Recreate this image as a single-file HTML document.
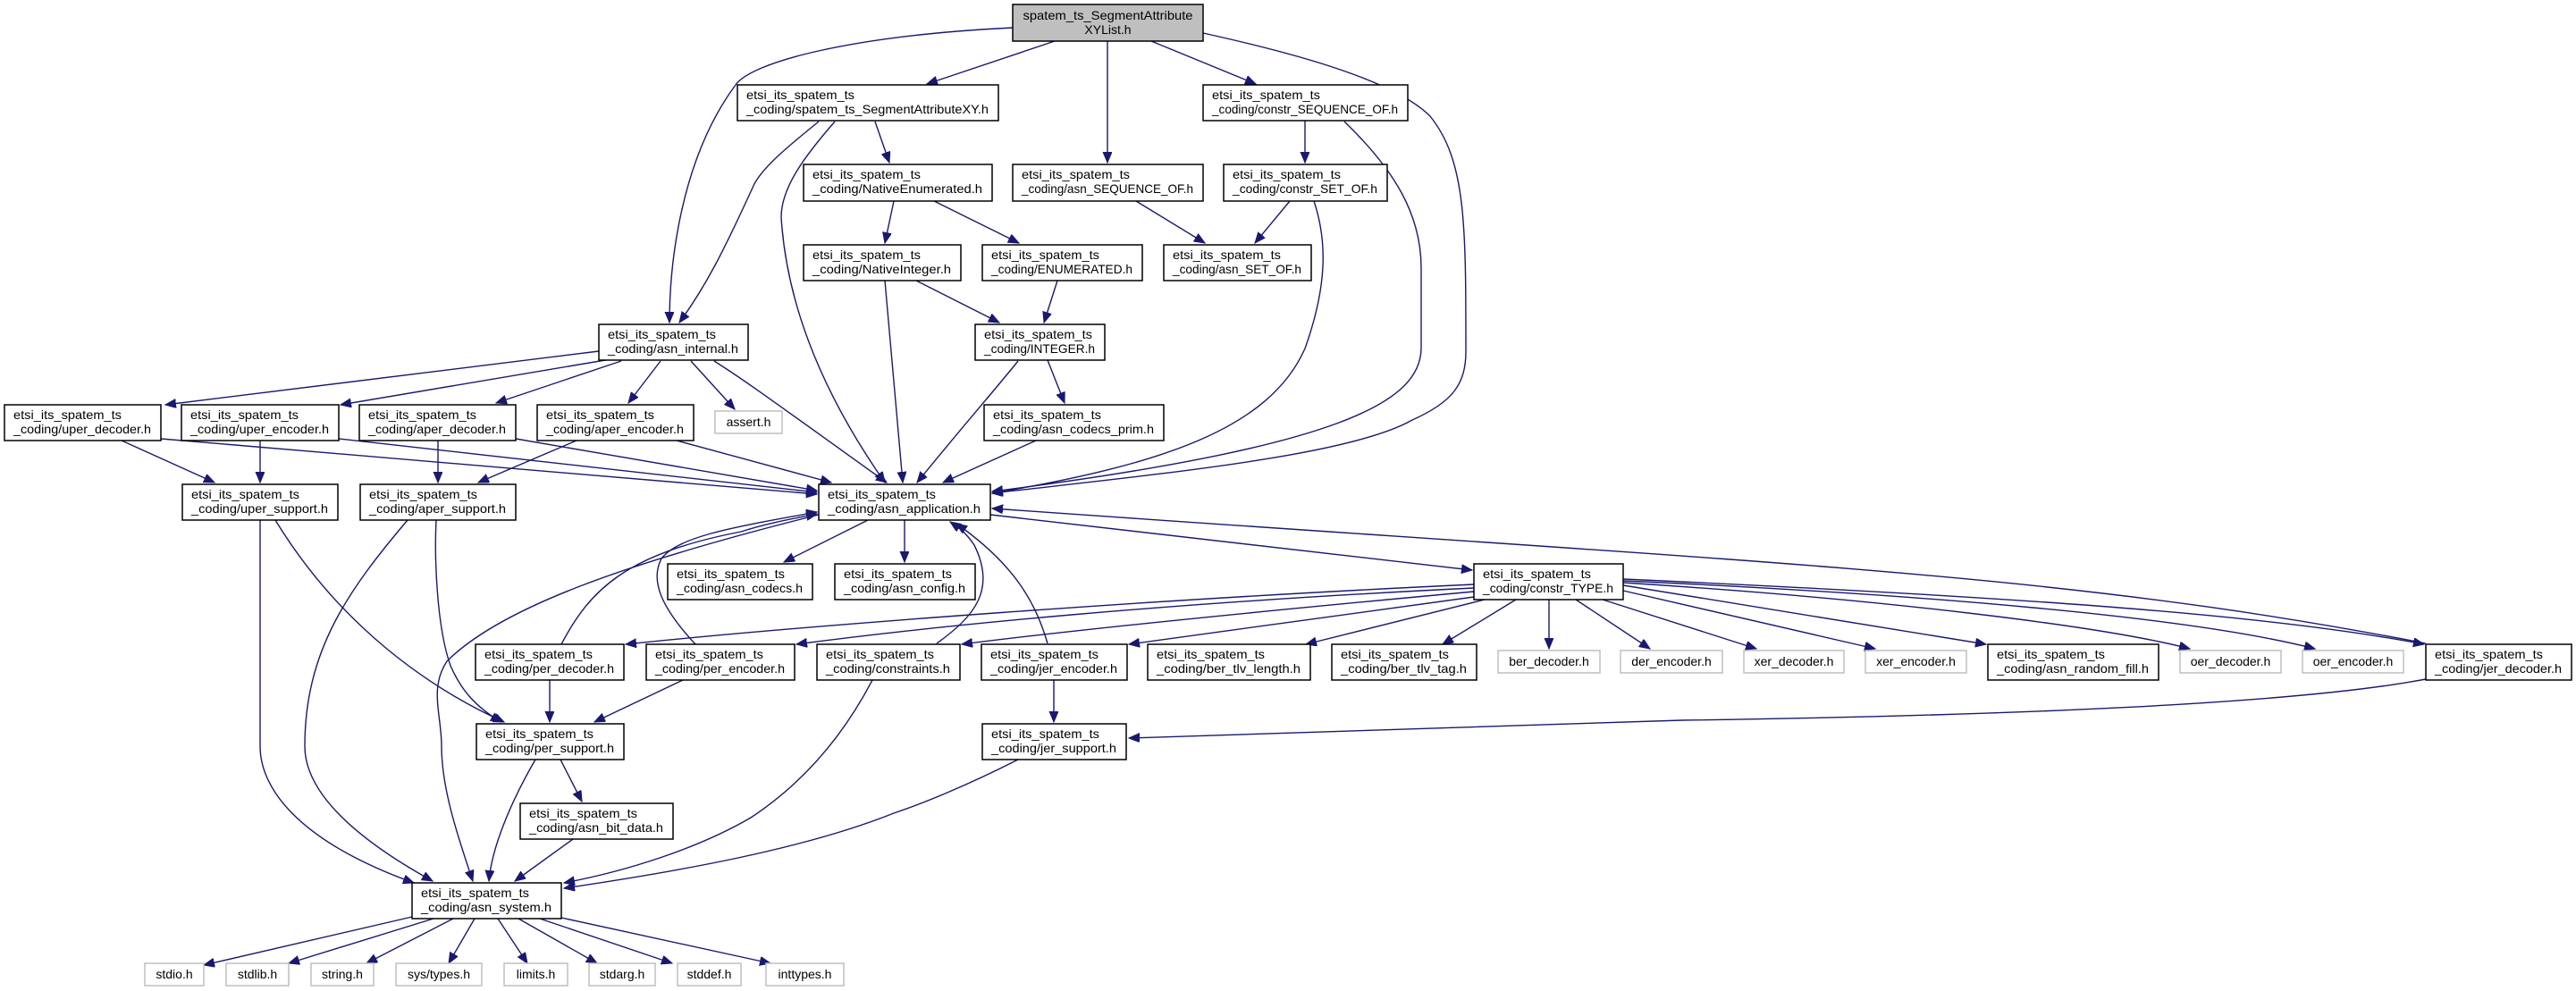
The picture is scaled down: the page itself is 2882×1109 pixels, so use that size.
<!DOCTYPE html>
<html><head><meta charset="utf-8"><style>
html,body{margin:0;padding:0;background:#fff;}
svg{display:block;}
text{font-family:"Liberation Sans",sans-serif;font-size:14px;fill:#000;}
.b{fill:#fff;stroke:#000;stroke-width:1.5;}
.g{fill:#fff;stroke:#bfbfbf;stroke-width:1.5;}
.e{fill:none;stroke:#191970;stroke-width:1.4;marker-end:url(#a);}
</style></head><body>
<svg width="2882" height="1109" viewBox="0 0 2882 1109" xmlns="http://www.w3.org/2000/svg">
<defs><marker id="a" markerUnits="userSpaceOnUse" markerWidth="14" markerHeight="12" refX="12" refY="5" orient="auto"><path d="M0,0 L12,5 L0,10 z" fill="#191970" stroke="#191970"/></marker></defs>

<!-- edges -->
<path class="e" d="M1133,31 C950,40 840,70 823,95 C760,180 749,300 749,361"/>
<path class="e" d="M1180,46 L1037,94"/>
<path class="e" d="M1239,46 L1239,182"/>
<path class="e" d="M1288,46 L1405,94"/>
<path class="e" d="M1346,37 C1450,60 1560,90 1600,130 C1640,180 1640,250 1640,393 C1640,430 1625,450 1580,470 C1510,510 1300,530 1110,552"/>
<path class="e" d="M916,136 C880,165 850,190 842,210 C810,280 790,320 760,361"/>
<path class="e" d="M934,136 C900,175 874,210 874,243 C880,340 920,440 990,540"/>
<path class="e" d="M979,136 L995,182"/>
<path class="e" d="M1460,135 L1460,182"/>
<path class="e" d="M1504,136 C1560,190 1590,240 1590,300 L1590,389 C1590,450 1500,500 1110,550"/>
<path class="e" d="M1000,225 L990,272"/>
<path class="e" d="M1045,225 L1140,272"/>
<path class="e" d="M1271,225 L1348,272"/>
<path class="e" d="M1443,225 L1404,272"/>
<path class="e" d="M1470,225 C1485,270 1485,320 1460,390 C1420,480 1300,520 1110,552"/>
<path class="e" d="M1025,314 L1118,361"/>
<path class="e" d="M990,314 L1010,540"/>
<path class="e" d="M1183,314 L1168,361"/>
<path class="e" d="M1172,403 L1191,451"/>
<path class="e" d="M1139,404 C1110,440 1083,470 1026,540"/>
<path class="e" d="M1159,493 L1055,540"/>
<path class="e" d="M670,393 L185,453"/>
<path class="e" d="M695,400 L381,453"/>
<path class="e" d="M695,404 L555,451"/>
<path class="e" d="M739,404 L703,451"/>
<path class="e" d="M773,404 L822,458"/>
<path class="e" d="M799,404 C840,430 880,460 992,540"/>
<path class="e" d="M136,493 L240,540"/>
<path class="e" d="M180,491 L914,553"/>
<path class="e" d="M291,493 L291,540"/>
<path class="e" d="M379,491 L914,551"/>
<path class="e" d="M490,493 L490,540"/>
<path class="e" d="M577,491 L914,549"/>
<path class="e" d="M645,493 L535,540"/>
<path class="e" d="M757,493 L930,540"/>
<path class="e" d="M291,582 L291,835 C291,880 330,940 463,988"/>
<path class="e" d="M308,582 C380,700 480,770 564,808"/>
<path class="e" d="M456,582 C390,660 341,728 341,835 C341,880 383,930 484,986"/>
<path class="e" d="M488,582 C486,620 488,700 504,745 C515,770 530,790 561,808"/>
<path class="e" d="M971,582 L877,629"/>
<path class="e" d="M1012,582 L1012,629"/>
<path class="e" d="M1108,576 L1647,638"/>
<path class="e" d="M628,721 C660,660 700,620 829,595 C860,585 890,580 914,575"/>
<path class="e" d="M778,721 C740,680 727,650 740,625 C760,600 820,590 914,573"/>
<path class="e" d="M1048,720 C1090,690 1115,660 1090,610 C1080,595 1072,590 1063,584"/>
<path class="e" d="M1172,720 C1160,680 1140,635 1070,586"/>
<path class="e" d="M2714,720 C2300,640 2000,632 1110,569"/>
<path class="e" d="M916,576 C700,630 560,680 500,740 C480,770 494,800 494,835 C494,880 510,930 529,986"/>
<path class="e" d="M615,761 L615,808"/>
<path class="e" d="M764,761 L665,808"/>
<path class="e" d="M976,761 C940,830 893,880 840,915 C780,950 700,975 631,988"/>
<path class="e" d="M599,850 C570,900 550,950 547,986"/>
<path class="e" d="M627,850 L651,897"/>
<path class="e" d="M641,939 L576,986"/>
<path class="e" d="M1139,850 C1080,880 1030,900 1000,910 C900,950 760,975 631,994"/>
<path class="e" d="M1179,761 L1179,808"/>
<path class="e" d="M2714,760 C2583,785 2300,800 1882,806 L1263,826"/>
<path class="e" d="M1649,654 C1300,670 900,700 700,721"/>
<path class="e" d="M1649,658 C1300,675 1050,700 891,721"/>
<path class="e" d="M1649,662 C1400,685 1200,705 1076,721"/>
<path class="e" d="M1649,668 L1263,721"/>
<path class="e" d="M1661,671 L1461,721"/>
<path class="e" d="M1696,671 L1614,721"/>
<path class="e" d="M1733,671 L1733,726"/>
<path class="e" d="M1763,671 L1846,726"/>
<path class="e" d="M1793,671 L1965,726"/>
<path class="e" d="M1816,661 L2098,726"/>
<path class="e" d="M1816,655 L2222,721"/>
<path class="e" d="M1816,652 C2100,670 2350,700 2450,726"/>
<path class="e" d="M1816,650 C2150,665 2450,690 2590,726"/>
<path class="e" d="M1816,648 C2300,670 2550,690 2712,721"/>
<path class="e" d="M461,1026 L228,1080"/>
<path class="e" d="M485,1028 L323,1078"/>
<path class="e" d="M507,1028 L410,1078"/>
<path class="e" d="M531,1028 L502,1078"/>
<path class="e" d="M557,1028 L590,1078"/>
<path class="e" d="M580,1028 L668,1078"/>
<path class="e" d="M604,1028 L752,1078"/>
<path class="e" d="M628,1027 L862,1078"/>

<!-- root -->
<rect x="1133" y="5" width="213" height="41" fill="#bfbfbf" stroke="#000" stroke-width="1.5"/>
<text x="1239.5" y="22" text-anchor="middle" textLength="190" lengthAdjust="spacingAndGlyphs">spatem_ts_SegmentAttribute</text>
<text x="1239.5" y="38" text-anchor="middle">XYList.h</text>

<!-- two-line nodes -->
<g>
<rect class="b" x="825" y="95" width="292" height="40"/><text x="835" y="111" textLength="121" lengthAdjust="spacingAndGlyphs">etsi_its_spatem_ts</text><text x="835" y="127" textLength="271" lengthAdjust="spacingAndGlyphs">_coding/spatem_ts_SegmentAttributeXY.h</text>
<rect class="b" x="1346" y="95" width="229" height="40"/><text x="1356" y="111" textLength="121" lengthAdjust="spacingAndGlyphs">etsi_its_spatem_ts</text><text x="1356" y="127" textLength="208" lengthAdjust="spacingAndGlyphs">_coding/constr_SEQUENCE_OF.h</text>
<rect class="b" x="899" y="184" width="211" height="41"/><text x="909" y="200" textLength="121" lengthAdjust="spacingAndGlyphs">etsi_its_spatem_ts</text><text x="909" y="216" textLength="190" lengthAdjust="spacingAndGlyphs">_coding/NativeEnumerated.h</text>
<rect class="b" x="1133" y="184" width="213" height="41"/><text x="1143" y="200" textLength="121" lengthAdjust="spacingAndGlyphs">etsi_its_spatem_ts</text><text x="1143" y="216" textLength="192" lengthAdjust="spacingAndGlyphs">_coding/asn_SEQUENCE_OF.h</text>
<rect class="b" x="1369" y="184" width="183" height="41"/><text x="1379" y="200" textLength="121" lengthAdjust="spacingAndGlyphs">etsi_its_spatem_ts</text><text x="1379" y="216" textLength="162" lengthAdjust="spacingAndGlyphs">_coding/constr_SET_OF.h</text>
<rect class="b" x="899" y="274" width="176" height="40"/><text x="909" y="290" textLength="121" lengthAdjust="spacingAndGlyphs">etsi_its_spatem_ts</text><text x="909" y="306" textLength="155" lengthAdjust="spacingAndGlyphs">_coding/NativeInteger.h</text>
<rect class="b" x="1099" y="274" width="179" height="40"/><text x="1109" y="290" textLength="121" lengthAdjust="spacingAndGlyphs">etsi_its_spatem_ts</text><text x="1109" y="306" textLength="158" lengthAdjust="spacingAndGlyphs">_coding/ENUMERATED.h</text>
<rect class="b" x="1302" y="274" width="165" height="40"/><text x="1312" y="290" textLength="121" lengthAdjust="spacingAndGlyphs">etsi_its_spatem_ts</text><text x="1312" y="306" textLength="144" lengthAdjust="spacingAndGlyphs">_coding/asn_SET_OF.h</text>
<rect class="b" x="670" y="363" width="167" height="40"/><text x="680" y="379" textLength="121" lengthAdjust="spacingAndGlyphs">etsi_its_spatem_ts</text><text x="680" y="395" textLength="146" lengthAdjust="spacingAndGlyphs">_coding/asn_internal.h</text>
<rect class="b" x="1091" y="363" width="145" height="40"/><text x="1101" y="379" textLength="121" lengthAdjust="spacingAndGlyphs">etsi_its_spatem_ts</text><text x="1101" y="395" textLength="124" lengthAdjust="spacingAndGlyphs">_coding/INTEGER.h</text>
<rect class="b" x="5" y="453" width="175" height="40"/><text x="15" y="469" textLength="121" lengthAdjust="spacingAndGlyphs">etsi_its_spatem_ts</text><text x="15" y="485" textLength="154" lengthAdjust="spacingAndGlyphs">_coding/uper_decoder.h</text>
<rect class="b" x="203" y="453" width="176" height="40"/><text x="213" y="469" textLength="121" lengthAdjust="spacingAndGlyphs">etsi_its_spatem_ts</text><text x="213" y="485" textLength="155" lengthAdjust="spacingAndGlyphs">_coding/uper_encoder.h</text>
<rect class="b" x="402" y="453" width="175" height="40"/><text x="412" y="469" textLength="121" lengthAdjust="spacingAndGlyphs">etsi_its_spatem_ts</text><text x="412" y="485" textLength="154" lengthAdjust="spacingAndGlyphs">_coding/aper_decoder.h</text>
<rect class="b" x="601" y="453" width="175" height="40"/><text x="611" y="469" textLength="121" lengthAdjust="spacingAndGlyphs">etsi_its_spatem_ts</text><text x="611" y="485" textLength="154" lengthAdjust="spacingAndGlyphs">_coding/aper_encoder.h</text>
<rect class="b" x="1101" y="453" width="201" height="40"/><text x="1111" y="469" textLength="121" lengthAdjust="spacingAndGlyphs">etsi_its_spatem_ts</text><text x="1111" y="485" textLength="180" lengthAdjust="spacingAndGlyphs">_coding/asn_codecs_prim.h</text>
<rect class="b" x="204" y="542" width="174" height="40"/><text x="214" y="558" textLength="121" lengthAdjust="spacingAndGlyphs">etsi_its_spatem_ts</text><text x="214" y="574" textLength="153" lengthAdjust="spacingAndGlyphs">_coding/uper_support.h</text>
<rect class="b" x="403" y="542" width="174" height="40"/><text x="413" y="558" textLength="121" lengthAdjust="spacingAndGlyphs">etsi_its_spatem_ts</text><text x="413" y="574" textLength="153" lengthAdjust="spacingAndGlyphs">_coding/aper_support.h</text>
<rect class="b" x="916" y="542" width="192" height="40"/><text x="926" y="558" textLength="121" lengthAdjust="spacingAndGlyphs">etsi_its_spatem_ts</text><text x="926" y="574" textLength="171" lengthAdjust="spacingAndGlyphs">_coding/asn_application.h</text>
<rect class="b" x="747" y="631" width="162" height="40"/><text x="757" y="647" textLength="121" lengthAdjust="spacingAndGlyphs">etsi_its_spatem_ts</text><text x="757" y="663" textLength="141" lengthAdjust="spacingAndGlyphs">_coding/asn_codecs.h</text>
<rect class="b" x="934" y="631" width="157" height="40"/><text x="944" y="647" textLength="121" lengthAdjust="spacingAndGlyphs">etsi_its_spatem_ts</text><text x="944" y="663" textLength="136" lengthAdjust="spacingAndGlyphs">_coding/asn_config.h</text>
<rect class="b" x="1649" y="631" width="167" height="40"/><text x="1659" y="647" textLength="121" lengthAdjust="spacingAndGlyphs">etsi_its_spatem_ts</text><text x="1659" y="663" textLength="146" lengthAdjust="spacingAndGlyphs">_coding/constr_TYPE.h</text>
<rect class="b" x="532" y="721" width="166" height="40"/><text x="542" y="737" textLength="121" lengthAdjust="spacingAndGlyphs">etsi_its_spatem_ts</text><text x="542" y="753" textLength="145" lengthAdjust="spacingAndGlyphs">_coding/per_decoder.h</text>
<rect class="b" x="723" y="721" width="166" height="40"/><text x="733" y="737" textLength="121" lengthAdjust="spacingAndGlyphs">etsi_its_spatem_ts</text><text x="733" y="753" textLength="145" lengthAdjust="spacingAndGlyphs">_coding/per_encoder.h</text>
<rect class="b" x="914" y="721" width="160" height="40"/><text x="924" y="737" textLength="121" lengthAdjust="spacingAndGlyphs">etsi_its_spatem_ts</text><text x="924" y="753" textLength="139" lengthAdjust="spacingAndGlyphs">_coding/constraints.h</text>
<rect class="b" x="1098" y="721" width="163" height="40"/><text x="1108" y="737" textLength="121" lengthAdjust="spacingAndGlyphs">etsi_its_spatem_ts</text><text x="1108" y="753" textLength="142" lengthAdjust="spacingAndGlyphs">_coding/jer_encoder.h</text>
<rect class="b" x="1284" y="721" width="182" height="40"/><text x="1294" y="737" textLength="121" lengthAdjust="spacingAndGlyphs">etsi_its_spatem_ts</text><text x="1294" y="753" textLength="161" lengthAdjust="spacingAndGlyphs">_coding/ber_tlv_length.h</text>
<rect class="b" x="1490" y="721" width="162" height="40"/><text x="1500" y="737" textLength="121" lengthAdjust="spacingAndGlyphs">etsi_its_spatem_ts</text><text x="1500" y="753" textLength="141" lengthAdjust="spacingAndGlyphs">_coding/ber_tlv_tag.h</text>
<rect class="b" x="2224" y="721" width="191" height="40"/><text x="2234" y="737" textLength="121" lengthAdjust="spacingAndGlyphs">etsi_its_spatem_ts</text><text x="2234" y="753" textLength="170" lengthAdjust="spacingAndGlyphs">_coding/asn_random_fill.h</text>
<rect class="b" x="2714" y="721" width="163" height="40"/><text x="2724" y="737" textLength="121" lengthAdjust="spacingAndGlyphs">etsi_its_spatem_ts</text><text x="2724" y="753" textLength="142" lengthAdjust="spacingAndGlyphs">_coding/jer_decoder.h</text>
<rect class="b" x="533" y="810" width="165" height="40"/><text x="543" y="826" textLength="121" lengthAdjust="spacingAndGlyphs">etsi_its_spatem_ts</text><text x="543" y="842" textLength="144" lengthAdjust="spacingAndGlyphs">_coding/per_support.h</text>
<rect class="b" x="1099" y="810" width="161" height="40"/><text x="1109" y="826" textLength="121" lengthAdjust="spacingAndGlyphs">etsi_its_spatem_ts</text><text x="1109" y="842" textLength="140" lengthAdjust="spacingAndGlyphs">_coding/jer_support.h</text>
<rect class="b" x="582" y="899" width="171" height="40"/><text x="592" y="915" textLength="121" lengthAdjust="spacingAndGlyphs">etsi_its_spatem_ts</text><text x="592" y="931" textLength="150" lengthAdjust="spacingAndGlyphs">_coding/asn_bit_data.h</text>
<rect class="b" x="461" y="988" width="167" height="40"/><text x="471" y="1004" textLength="121" lengthAdjust="spacingAndGlyphs">etsi_its_spatem_ts</text><text x="471" y="1020" textLength="146" lengthAdjust="spacingAndGlyphs">_coding/asn_system.h</text>
</g>

<!-- grey single-line nodes -->
<g text-anchor="middle">
<rect class="g" x="800" y="460" width="75" height="25"/><text x="837.5" y="477">assert.h</text>
<rect class="g" x="1676" y="728" width="114" height="25"/><text x="1733" y="745">ber_decoder.h</text>
<rect class="g" x="1813" y="728" width="114" height="25"/><text x="1870" y="745">der_encoder.h</text>
<rect class="g" x="1951" y="728" width="112" height="25"/><text x="2007" y="745">xer_decoder.h</text>
<rect class="g" x="2087" y="728" width="113" height="25"/><text x="2143.5" y="745">xer_encoder.h</text>
<rect class="g" x="2439" y="728" width="113" height="25"/><text x="2495.5" y="745">oer_decoder.h</text>
<rect class="g" x="2576" y="728" width="113" height="25"/><text x="2632.5" y="745">oer_encoder.h</text>
<rect class="g" x="162" y="1078" width="66" height="25"/><text x="195" y="1095">stdio.h</text>
<rect class="g" x="253" y="1078" width="70" height="25"/><text x="288" y="1095">stdlib.h</text>
<rect class="g" x="348" y="1078" width="70" height="25"/><text x="383" y="1095">string.h</text>
<rect class="g" x="443" y="1078" width="96" height="25"/><text x="491" y="1095">sys/types.h</text>
<rect class="g" x="564" y="1078" width="71" height="25"/><text x="599.5" y="1095">limits.h</text>
<rect class="g" x="659" y="1078" width="74" height="25"/><text x="696" y="1095">stdarg.h</text>
<rect class="g" x="758" y="1078" width="71" height="25"/><text x="793.5" y="1095">stddef.h</text>
<rect class="g" x="857" y="1078" width="87" height="25"/><text x="900.5" y="1095">inttypes.h</text>
</g>
</svg>
</body></html>
